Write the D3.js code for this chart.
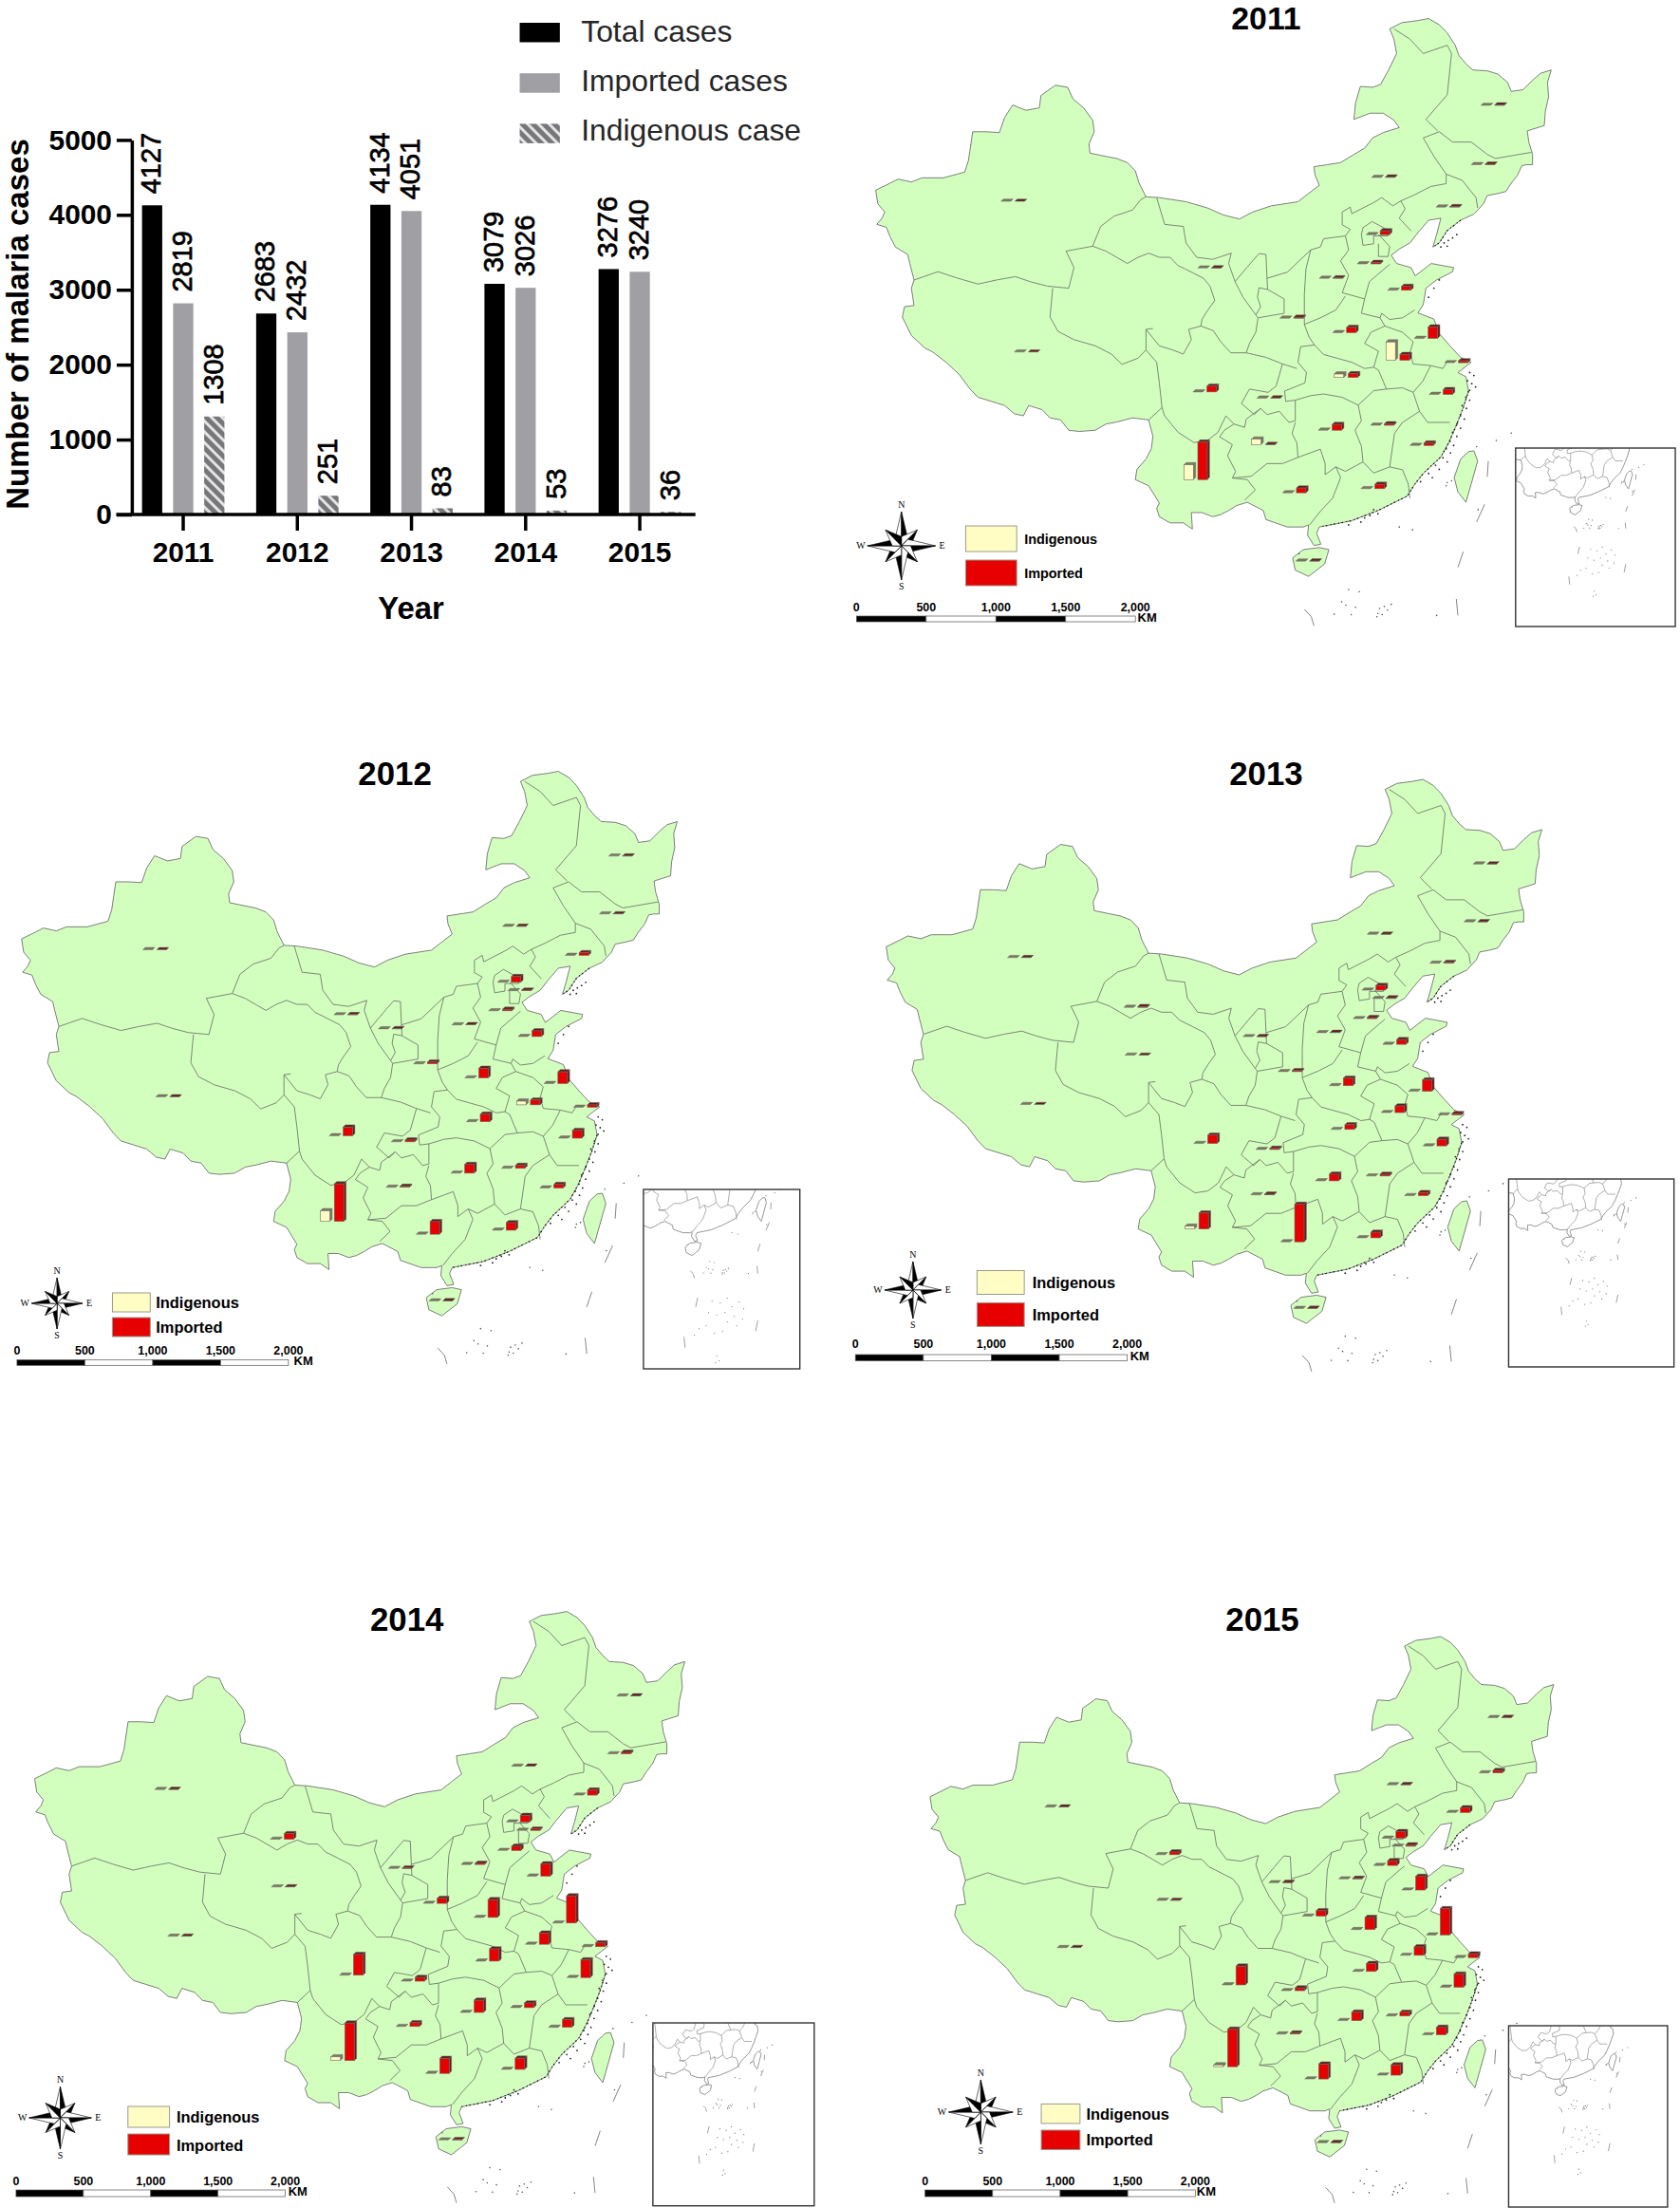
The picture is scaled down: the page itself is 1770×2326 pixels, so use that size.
<!DOCTYPE html>
<html>
<head>
<meta charset="utf-8">
<script src="https://cdn.jsdelivr.net/npm/d3@7"></script>
<style>
	body { margin: 0; background: #fff; }
	text { font-family: "Liberation Sans", Arial, sans-serif; }
</style>
</head>
<body>
<svg id="figure" width="1770" height="2326"></svg>
<script>
// national totals
const years = ["2011", "2012", "2013", "2014", "2015"];
const seriesNames = ["Total cases", "Imported cases", "Indigenous case"];
const totalCases = [4127, 2683, 4134, 3079, 3276];
const importedCases = [2819, 2432, 4051, 3026, 3240];
const indigenousCases = [1308, 251, 83, 53, 36];
const yTicks = [0, 1000, 2000, 3000, 4000, 5000];

// cases per province. null = no bar drawn that year
const provinces = ["Xinjiang","Tibet","Qinghai","Gansu","Ningxia","Shaanxi","Shanxi","Inner Mongolia","Heilongjiang","Jilin","Liaoning","Beijing","Tianjin","Hebei","Shandong","Henan","Jiangsu","Anhui","Shanghai","Zhejiang","Hubei","Hunan","Jiangxi","Fujian","Guangdong","Guangxi","Hainan","Chongqing","Sichuan","Guizhou","Yunnan"];
const imported2011 = [0,0,null,5,null,26,13,13,13,13,13,104,null,39,104,143,312,156,52,130,104,156,39,65,117,130,3,5,156,5,1014];
const imported2012 = [0,0,null,5,5,30,5,3,3,3,45,95,10,25,95,160,195,80,40,130,125,145,50,60,125,210,3,30,145,15,624];
const imported2013 = [3,0,0,25,5,30,10,5,5,5,25,135,20,30,135,215,325,190,40,190,135,190,50,90,160,1080,5,35,240,20,460];
const imported2014 = [3,2,2,67,6,60,14,2,3,18,60,78,16,50,145,210,322,133,45,210,145,145,55,90,133,178,6,45,245,45,444];
const imported2015 = [2,2,2,40,5,80,8,3,3,35,68,96,20,68,200,178,384,123,55,192,116,123,55,110,150,219,4,40,274,15,548];
const indigenous2011 = [0,0,null,0,null,0,0,0,0,0,0,0,null,0,0,0,0,494,0,0,95,0,0,0,0,0,0,0,0,150,400];
const indigenous2012 = [0,0,null,0,0,0,0,0,0,0,0,0,0,0,0,0,0,62,0,0,0,0,0,0,0,0,0,0,0,0,176];
const indigenous2013 = [0,0,0,0,0,0,0,0,0,0,0,0,0,0,0,0,0,0,0,0,0,0,0,0,0,0,0,0,0,0,80];
const indigenous2014 = [0,0,0,0,0,0,0,0,0,0,0,0,0,0,0,0,0,0,0,0,0,0,0,0,0,0,0,0,0,0,44];
const indigenous2015 = [0,0,0,0,0,0,0,0,0,0,0,0,0,0,0,0,0,0,0,0,0,0,0,0,0,0,0,0,0,0,27];

// base map
const anchors = [[315,489],[340,855],[542,732],[540,613],[770,686],[838,773],[912,676],[1010,431],[1215,256],[1197,400],[1131,503],[1000,570],[1020,591],[983,641],[1040,705],[937,808],[1090,822],[1037,875],[1147,881],[1118,958],[940,917],[910,1045],[1008,1033],[1082,1082],[990,1187],[843,1197],[868,1363],[795,967],[675,952],[785,1080],[658,1165]];
const gansuEast = [684,651];

const chinaOutline = [[1095,45],[1115,60],[1130,80],[1145,110],[1152,135],[1165,155],[1178,170],[1205,172],[1225,180],[1243,200],[1250,222],[1272,218],[1290,195],[1305,178],[1325,170],[1318,200],[1320,235],[1314,270],[1312,305],[1280,318],[1283,345],[1290,375],[1290,400],[1280,400],[1270,402],[1262,425],[1250,445],[1240,465],[1225,470],[1205,475],[1198,495],[1180,520],[1155,535],[1130,560],[1115,590],[1103,600],[1110,570],[1118,530],[1095,535],[1075,565],[1060,590],[1040,605],[1025,620],[1035,640],[1062,650],[1070,670],[1100,640],[1142,650],[1140,660],[1110,680],[1090,700],[1085,740],[1075,760],[1105,775],[1115,810],[1135,840],[1155,868],[1175,880],[1150,905],[1165,915],[1170,950],[1160,990],[1148,1030],[1133,1075],[1118,1110],[1085,1150],[1068,1178],[1055,1205],[1000,1240],[950,1265],[890,1280],[885,1295],[893,1322],[880,1325],[868,1300],[870,1275],[860,1280],[830,1280],[790,1262],[785,1240],[755,1220],[735,1228],[720,1240],[705,1250],[690,1255],[670,1245],[650,1245],[652,1285],[635,1270],[610,1270],[590,1255],[585,1235],[590,1222],[570,1180],[545,1165],[548,1140],[565,1115],[575,1090],[578,1060],[570,1020],[540,1015],[510,1025],[490,1030],[470,1045],[440,1048],[420,1045],[405,1020],[385,1015],[370,995],[345,985],[335,1010],[318,1005],[300,985],[275,975],[250,965],[235,945],[215,910],[190,880],[165,855],[150,845],[125,815],[108,770],[112,745],[130,742],[125,700],[130,680],[122,640],[118,618],[95,600],[85,575],[78,552],[60,545],[70,530],[75,515],[62,495],[58,462],[85,445],[100,435],[125,442],[145,432],[185,432],[225,418],[232,390],[240,320],[265,320],[290,322],[300,285],[315,255],[340,268],[365,262],[368,232],[395,207],[418,212],[428,240],[448,262],[465,292],[468,320],[458,350],[460,372],[490,380],[510,385],[530,395],[545,415],[552,445],[565,478],[590,480],[640,490],[680,505],[710,522],[740,532],[765,515],[800,500],[850,490],[870,470],[890,450],[882,425],[880,405],[905,400],[930,395],[955,375],[975,360],[990,335],[1010,322],[1040,310],[1030,292],[1010,275],[985,275],[955,290],[958,250],[967,210],[990,212],[1005,205],[1020,170],[1035,130],[1030,95],[1022,70],[1045,55],[1075,50],[1095,45]];
const taiwanOutline = [[1180,1095],[1187,1120],[1175,1175],[1165,1220],[1150,1195],[1143,1160],[1155,1115],[1170,1097],[1180,1095]];
const hainanOutline = [[890,1330],[908,1335],[900,1370],[870,1400],[845,1385],[840,1355],[860,1335],[890,1330]];

const provinceBorders = [
	[[565,478],[555,485],[540,510],[505,525],[480,550],[465,598],[415,610],[430,650],[420,700]],
	[[130,680],[175,660],[210,675],[250,690],[285,680],[320,672],[350,685],[380,695],[420,700]],
	[[390,700],[385,770],[400,805],[430,825],[470,840],[500,860],[520,885],[550,870],[565,850],[565,800],[578,798]],
	[[565,850],[585,880],[590,930],[595,990],[570,1020]],
	[[465,598],[490,610],[510,625],[530,640],[550,625],[570,615],[590,625],[610,625],[625,645],[638,653],[673,676],[685,695],[694,730],[680,755],[670,776],[668,792],[645,800],[650,825],[635,860],[615,850],[590,840],[565,800]],
	[[668,792],[691,803],[705,830],[724,857],[753,857]],
	[[585,480],[600,545],[635,550],[640,590],[660,625],[690,630],[725,615],[720,640],[732,684]],
	[[777,616],[762,638],[732,684],[747,722],[771,765]],
	[[777,616],[790,618],[792,676],[793,703],[777,699],[774,722],[780,745],[771,765],[775,772]],
	[[792,676],[830,661],[874,607],[865,653],[862,715],[862,788]],
	[[793,703],[824,726],[824,761],[775,772],[771,807],[759,834],[753,857],[790,868],[821,884],[848,895]],
	[[874,607],[892,600],[898,580],[939,573],[948,557],[933,546],[933,515],[948,503],[951,519],[992,492],[1007,480],[1028,500],[1043,488],[1051,507],[1040,530],[1062,561]],
	[[1043,488],[1069,473],[1099,453],[1128,446],[1128,423],[1158,438],[1184,480],[1187,505]],
	[[1128,423],[1105,380],[1085,335],[1115,320],[1140,345],[1175,345],[1205,375],[1220,385],[1288,370]],
	[[1112,318],[1090,290],[1130,230],[1138,130],[1130,110],[1085,130],[1060,95],[1030,70]],
	[[939,573],[945,607],[930,634],[945,669],[933,711],[975,726],[984,684],[1022,642]],
	[[862,788],[892,772],[921,753],[939,719]],
	[[972,553],[989,538],[1016,557],[1019,573],[992,573],[992,592],[972,596],[969,569],[972,553]],
	[[1001,569],[1022,599],[1019,623],[1001,623],[1001,592]],
	[[975,726],[969,761],[1004,772],[1007,761],[1022,776],[1046,772],[1069,753]],
	[[1004,772],[1013,792],[987,807],[975,834],[1001,853],[992,892],[975,895],[951,880],[898,861],[881,838],[871,819],[862,788]],
	[[1013,792],[1046,807],[1066,830],[1060,857],[1066,884],[1099,888],[1122,895],[1131,876]],
	[[1099,888],[1084,926],[1066,953],[1046,942],[1016,945],[1001,899],[992,892]],
	[[1066,953],[1078,999],[1093,1026],[1135,1026]],
	[[1078,999],[1046,1026],[1031,1053],[1022,1134],[1046,1141],[1057,1176],[1060,1210]],
	[[1016,945],[992,949],[963,984],[969,1022],[957,1045],[969,1084],[972,1122],[992,1149],[1022,1134]],
	[[845,972],[874,961],[898,957],[933,965],[963,984]],
	[[881,838],[855,842],[850,880],[866,905],[863,930],[825,950],[827,975],[845,972]],
	[[821,884],[809,938],[794,953],[759,945],[744,980],[768,1007],[780,992],[792,1007],[815,999],[833,1026],[845,1022],[845,972]],
	[[595,990],[600,1010],[625,1050],[655,1075],[680,1070],[700,1050],[715,1010],[730,1030],[750,1038],[753,1018],[780,992]],
	[[730,1030],[712,1045],[703,1061],[727,1080],[718,1107],[733,1145],[727,1161],[762,1157],[792,1126],[821,1126],[850,1111],[848,1076],[839,1053],[845,1026]],
	[[727,1161],[755,1165],[770,1190],[750,1215]],
	[[850,1111],[892,1091],[901,1126],[901,1153],[921,1134],[939,1145],[972,1122]],
	[[921,1134],[930,1160],[915,1210],[890,1245],[872,1275]]
];

const seaDashes = [[[1207,1120],[1205,1158]],[[1200,1225],[1185,1268]],[[1160,1340],[1150,1378]],[[1147,1455],[1150,1495]],[[862,1480],[875,1498],[880,1520]]];
const seaDots = [[945,1432],[965,1437],[932,1462],[940,1470],[958,1475],[918,1492],[950,1493],[1025,1468],[1012,1473],[1003,1478],[1000,1490],[1018,1482],[1008,1493],[998,1498],[1110,1495],[1040,1280],[1065,1287],[1130,1172],[1138,1168],[1128,1180],[1185,1085],[1222,1070],[1250,1052],[1188,1238],[852,1345]];
const coastIslets = [[1172,905],[1180,912],[1168,925],[1176,932],[1183,940],[1172,948],[1165,965],[1172,972],[1158,985],[1166,992],[1155,1010],[1162,1018],[1148,1030],[1155,1040],[1140,1050],[1148,1060],[1135,1072],[1142,1082],[1128,1090],[1136,1100],[1122,1112],[1130,1122],[1108,1130],[1115,1140],[1095,1150],[1102,1160],[1080,1170],[1000,1248],[992,1238],[985,1252],[975,1258],[968,1268],[945,1275],[1148,570],[1140,578],[1132,584],[1124,590],[1118,600],[1130,598],[1115,680],[1105,700],[1095,722]];
const coastStipple = [[[1170,950],[1160,990],[1148,1030],[1133,1075],[1118,1110],[1085,1150],[1068,1178],[1055,1205],[1000,1240],[950,1265],[890,1280]],[[1155,535],[1130,560],[1115,590],[1103,600]]];
const insetExtraDashes = [[[894,1622],[885,1671]],[[1150,1742],[1141,1799]],[[835,1828],[840,1885]]];
const insetExtraDots = [[955,1640],[990,1650],[1020,1625],[1040,1670],[1070,1645],[1090,1680],[940,1700],[975,1715],[1010,1700],[1050,1720],[1085,1735],[1020,1750],[1060,1770],[900,1785],[930,1770],[880,1820],[965,1810],[1000,1800],[975,1930],[985,1955],[970,1965]];

// panel placement on the page
const panels = [
	{ year: "2011", imported: imported2011, indigenous: indigenous2011, originX: 890, map: [.5643,.4337,890,0], title: [1336,30.8], titleSize: 34, inset: { box: [1600,472,169,188], at: [1663,537,.1913,.1518] }, legend: { x: 1018, w: 54, h: 27, y1: 554, y2: 590, tx: 1080, t1: 573, t2: 609, size: 14.5 }, compass: [950,575,36], bar: { x0: 902.4, x1: 1197.6, y: 649, h: 6, ty: 644, kmx: 1200, kmy: 655 } },
	{ year: "2012", imported: imported2012, indigenous: indigenous2012, originX: 0, map: [.5477,.4233,-8.9,793.5], title: [418,827], titleSize: 35, inset: { box: [681,1253,165.5,189], at: [732.5,1315.6,.248,.2] }, legend: { x: 119, w: 40, h: 20, y1: 1362, y2: 1388, tx: 165, t1: 1378.4, t2: 1404.5, size: 16.5 }, compass: [60.4,1373,27], bar: { x0: 18, x1: 305.3, y: 1432.6, h: 5.7, ty: 1427, kmx: 311, kmy: 1438 } },
	{ year: "2013", imported: imported2013, indigenous: indigenous2013, originX: 890, map: [.5477,.4229,902.1,802], title: [1336,827], titleSize: 35, inset: { box: [1592.6,1242,175,198], at: [1654.7,1308.2,.1913,.148] }, legend: { x: 1030, w: 50, h: 25, y1: 1338.5, y2: 1372.4, tx: 1088.6, t1: 1356.7, t2: 1390.6, size: 16.5 }, compass: [962.2,1359,30], bar: { x0: 901.3, x1: 1189, y: 1427, h: 6.5, ty: 1420, kmx: 1192, kmy: 1432.6 } },
	{ year: "2014", imported: imported2014, indigenous: indigenous2014, originX: 0, map: [.5431,.4224,5.2,1678.6], title: [430.6,1718], titleSize: 35, inset: { box: [691,2131,170.7,192.7], at: [746,2201.4,.1875,.15] }, legend: { x: 135.4, w: 44, h: 22, y1: 2219, y2: 2248, tx: 186.8, t1: 2236, t2: 2265.6, size: 16.5 }, compass: [63.8,2231,33], bar: { x0: 17, x1: 302, y: 2307, h: 7, ty: 2302, kmx: 305, kmy: 2313 } },
	{ year: "2015", imported: imported2015, indigenous: indigenous2015, originX: 890, map: [.5209,.4046,950.1,1705.8], title: [1332,1718], titleSize: 35, inset: { box: [1592.6,2134,168.2,191], at: [1647.3,2202.7,.1875,.146] }, legend: { x: 1098, w: 41, h: 20.5, y1: 2216.4, y2: 2244, tx: 1145.6, t1: 2232.6, t2: 2260, size: 16.5 }, compass: [1034,2225,34], bar: { x0: 975, x1: 1261, y: 2307, h: 7, ty: 2302, kmx: 1262.5, kmy: 2313 } }
];

// my numbers were read slightly wide, pull everything in
const widthFix = .9955;

const svg = d3.select("#figure");
const defs = svg.append("defs");

defs.append("pattern")
	.attr("id", "hatch")
	.attr("patternUnits", "userSpaceOnUse")
	.attr("width", 8).attr("height", 8)
	.attr("patternTransform", "rotate(-45)")
	.call(p => p.append("rect").attr("width", 8).attr("height", 8).attr("fill", "#e4e4e4"))
	.call(p => p.append("rect").attr("width", 5).attr("height", 8).attr("fill", "#77777b"));

function drawBarChart() {
	const g = svg.append("g").attr("id", "bars").attr("transform", "scale(" + widthFix + ",1)");
	const x = d3.scaleBand().domain(years).range([133.5, 737.5]);
	const inner = d3.scaleBand().domain(seriesNames).range([-43.6, 43.6]).paddingInner(.35);
	const y = d3.scaleLinear().domain([0, 5000]).range([542, 147.4]);
	const values = [totalCases, importedCases, indigenousCases];
	const fills = ["#000", "#a0a0a4", "url(#hatch)"];

	seriesNames.forEach((name, s) => {
		const cells = g.append("g").selectAll("g")
			.data(years.map((yr, i) => ({ yr, v: values[s][i] })))
			.enter().append("g")
			.attr("transform", d => "translate(" + (x(d.yr) + x.bandwidth() / 2 + inner(name)) + ",0)");
		cells.append("rect")
			.attr("y", d => y(d.v))
			.attr("width", inner.bandwidth())
			.attr("height", d => y(0) - y(d.v))
			.attr("fill", fills[s]);
		cells.append("text")
			.attr("transform", d => "translate(" + (inner.bandwidth() / 2 + 9) + "," + (y(d.v) - 12) + ") rotate(-90)")
			.attr("font-size", 29)
			.attr("stroke", "#000").attr("stroke-width", .7)
			.text(d => d.v);
	});

	const yAxis = g.append("g").attr("transform", "translate(139.5,0)")
		.call(d3.axisLeft(y).tickValues(yTicks).tickFormat(d3.format("d")).tickSize(16).tickSizeOuter(0).tickPadding(5));
	const xAxis = g.append("g").attr("transform", "translate(0,542)")
		.call(d3.axisBottom(x).tickSize(17).tickSizeOuter(0).tickPadding(12));
	[yAxis, xAxis].forEach(a => {
		a.selectAll("path,line").attr("stroke", "#000").attr("stroke-width", 3.5);
		a.selectAll("text").attr("font-size", 30).attr("font-weight", 700).attr("fill", "#000");
	});
	xAxis.select("path").attr("d", "M123,0H736");

	g.append("text").attr("x", 435).attr("y", 652).attr("text-anchor", "middle")
		.attr("font-size", 33).attr("font-weight", 700).text("Year");
	g.append("text").attr("transform", "translate(30,341.5) rotate(-90)").attr("text-anchor", "middle")
		.attr("font-size", 33).attr("font-weight", 700).text("Number of malaria cases");

	const legend = g.append("g");
	seriesNames.forEach((name, s) => {
		legend.append("rect").attr("x", 550).attr("y", 24 + s * 53.2).attr("width", 42.5).attr("height", 20.5).attr("fill", fills[s]);
		legend.append("text").attr("x", 615).attr("y", 44 + s * 52).attr("font-size", 32).attr("fill", "#262626").text(name);
	});
}

function pathFor(sx, sy, tx, ty) {
	return d3.geoPath(d3.geoTransform({
		point(px, py) { this.stream.point(tx + sx * px, ty + sy * py); }
	}));
}

const landShape = { type: "MultiPolygon", coordinates: [[chinaOutline], [taiwanOutline], [hainanOutline]] };
const borderShape = { type: "MultiLineString", coordinates: provinceBorders };
const dashShape = { type: "MultiLineString", coordinates: seaDashes };
const stippleShape = { type: "MultiLineString", coordinates: coastStipple };

function drawDots(g, path, dots, radius, color) {
	g.append("path")
		.attr("d", path.pointRadius(radius)({ type: "MultiPoint", coordinates: dots }))
		.attr("fill", color);
}

function drawCompass(g, cx, cy, r) {
	const star = g.append("g").attr("transform", "translate(" + cx + "," + cy + ")");
	const tri = d3.line();
	d3.range(8).forEach(k => {
		const a = k * Math.PI / 4;
		const len = k % 2 ? r * .66 : r;
		const tip = [len * Math.sin(a), -len * Math.cos(a)];
		const w = r * .27;
		const left = [w * Math.sin(a - Math.PI / 4), -w * Math.cos(a - Math.PI / 4)];
		const right = [w * Math.sin(a + Math.PI / 4), -w * Math.cos(a + Math.PI / 4)];
		star.append("path").attr("d", tri([[0, 0], left, tip]) + "Z").attr("fill", "#fff").attr("stroke", "#000").attr("stroke-width", .6);
		star.append("path").attr("d", tri([[0, 0], right, tip]) + "Z").attr("fill", "#000").attr("stroke", "#000").attr("stroke-width", .6);
	});
	[["N", 0, -r - 4], ["S", 0, r + 10], ["W", -r - 7, 3], ["E", r + 7, 3]].forEach(l => {
		star.append("text").attr("x", l[1]).attr("y", l[2]).attr("text-anchor", "middle")
			.style("font-family", "'Liberation Serif', serif").attr("font-size", 10).text(l[0]);
	});
}

function drawProvinceBars(g, panel) {
	const [sx, sy, tx, ty] = panel.map;
	const maxValue = d3.max(panel.imported.concat(panel.indigenous));
	const h = d3.scaleLinear().domain([0, maxValue]).range([0, 39.5]);
	const offset = d3.scaleBand().domain(["Indigenous", "Imported"]).range([-12.35, 12.35]).paddingInner(.32);
	const rows = provinces.map((name, i) => ({
		name,
		at: name === "Gansu" && (panel.year === "2011" || panel.year === "2012") ? gansuEast : anchors[i],
		Indigenous: panel.indigenous[i],
		Imported: panel.imported[i]
	})).filter(d => d.Imported !== null);

	const colors = {
		Indigenous: { front: "#fffdc4", dark: "#7c7764" },
		Imported: { front: "#e60000", dark: "#5e1d1d" }
	};
	const w = offset.bandwidth(), dx = 2.4, dy = 2.4;
	const poly = d3.line();

	["Indigenous", "Imported"].forEach(series => {
		const bars = g.append("g").selectAll("g").data(rows).enter().append("g")
			.attr("transform", d => "translate(" + (tx + sx * d.at[0] + offset(series)) + "," + (ty + sy * d.at[1]) + ")");
		bars.append("path")
			.attr("d", d => poly([[w, 0], [w + dx, -dy], [w + dx, -h(d[series]) - dy], [w, -h(d[series])]]) + "Z")
			.attr("fill", colors[series].dark).attr("stroke", "#6a6a62").attr("stroke-width", .5);
		bars.append("path")
			.attr("d", d => poly([[0, -h(d[series])], [dx, -h(d[series]) - dy], [w + dx, -h(d[series]) - dy], [w, -h(d[series])]]) + "Z")
			.attr("fill", colors[series].dark).attr("stroke", "#6a6a62").attr("stroke-width", .5);
		bars.append("rect")
			.attr("y", d => -h(d[series]))
			.attr("width", w)
			.attr("height", d => h(d[series]))
			.attr("fill", colors[series].front).attr("stroke", "#6a6a62").attr("stroke-width", .6);
	});
}

function drawPanel(panel) {
	const g = svg.append("g").attr("id", "map" + panel.year)
		.attr("transform", "translate(" + panel.originX + ",0) scale(" + widthFix + ",1) translate(" + (-panel.originX) + ",0)");
	const [sx, sy, tx, ty] = panel.map;
	const path = pathFor(sx, sy, tx, ty);

	g.append("text").attr("x", panel.title[0]).attr("y", panel.title[1]).attr("text-anchor", "middle")
		.attr("font-size", panel.titleSize).attr("font-weight", 700).text(panel.year);

	g.append("path").attr("d", path(landShape)).attr("fill", "#d3ffbe").attr("stroke", "#6f6f6f").attr("stroke-width", .9);
	g.append("path").attr("d", path(borderShape)).attr("fill", "none").attr("stroke", "#6f7a6c").attr("stroke-width", .9);
	g.append("path").attr("d", path(stippleShape)).attr("fill", "none").attr("stroke", "#111")
		.attr("stroke-width", 1.3).attr("stroke-dasharray", "1.5 2.5 1 3.5");
	drawDots(g, path, coastIslets, .9, "#222");
	g.append("path").attr("d", path(dashShape)).attr("fill", "none").attr("stroke", "#777").attr("stroke-width", .9);
	drawDots(g, path, seaDots, .8, "#555");

	drawProvinceBars(g, panel);

	// inset with the whole South China Sea
	const box = panel.inset.box, at = panel.inset.at;
	const clipId = "clip" + panel.year;
	defs.append("clipPath").attr("id", clipId).append("rect")
		.attr("x", box[0]).attr("y", box[1]).attr("width", box[2]).attr("height", box[3]);
	const insetPath = pathFor(at[2], at[3], at[0] - at[2] * 870, at[1] - at[3] * 1365);
	const inset = g.append("g").attr("clip-path", "url(#" + clipId + ")");
	inset.append("path").attr("d", insetPath(landShape)).attr("fill", "none").attr("stroke", "#7d7d7d").attr("stroke-width", .8);
	inset.append("path").attr("d", insetPath(borderShape)).attr("fill", "none").attr("stroke", "#8a8a8a").attr("stroke-width", .7);
	inset.append("path").attr("d", insetPath(dashShape)).attr("fill", "none").attr("stroke", "#888").attr("stroke-width", .8);
	inset.append("path").attr("d", insetPath({ type: "MultiLineString", coordinates: insetExtraDashes })).attr("fill", "none").attr("stroke", "#888").attr("stroke-width", .8);
	drawDots(inset, insetPath, seaDots.concat(insetExtraDots), .6, "#777");
	g.append("rect").attr("x", box[0]).attr("y", box[1]).attr("width", box[2]).attr("height", box[3])
		.attr("fill", "none").attr("stroke", "#333").attr("stroke-width", 1.4);

	const lg = panel.legend;
	[["Indigenous", "#fffdc4", lg.y1, lg.t1], ["Imported", "#e60000", lg.y2, lg.t2]].forEach(row => {
		g.append("rect").attr("x", lg.x).attr("y", row[2]).attr("width", lg.w).attr("height", lg.h)
			.attr("fill", row[1]).attr("stroke", "#9a9a8e").attr("stroke-width", 1);
		g.append("text").attr("x", lg.tx).attr("y", row[3]).attr("font-size", lg.size).attr("font-weight", 700).text(row[0]);
	});

	drawCompass(g, panel.compass[0], panel.compass[1], panel.compass[2]);

	// scale bar
	const b = panel.bar;
	const km = d3.scaleLinear().domain([0, 2000]).range([b.x0, b.x1]);
	d3.range(0, 2000, 500).forEach((v, i) => {
		g.append("rect").attr("x", km(v)).attr("y", b.y).attr("width", km(v + 500) - km(v)).attr("height", b.h)
			.attr("fill", i % 2 ? "#fff" : "#000").attr("stroke", "#555").attr("stroke-width", .7);
	});
	km.ticks(4).forEach(v => {
		g.append("text").attr("x", km(v)).attr("y", b.ty).attr("text-anchor", "middle")
			.attr("font-size", 12.5).attr("font-weight", 700).text(d3.format(",")(v));
	});
	g.append("text").attr("x", b.kmx).attr("y", b.kmy).attr("font-size", 13).attr("font-weight", 700).text("KM");
}

drawBarChart();
panels.forEach(drawPanel);
</script>
</body>
</html>
